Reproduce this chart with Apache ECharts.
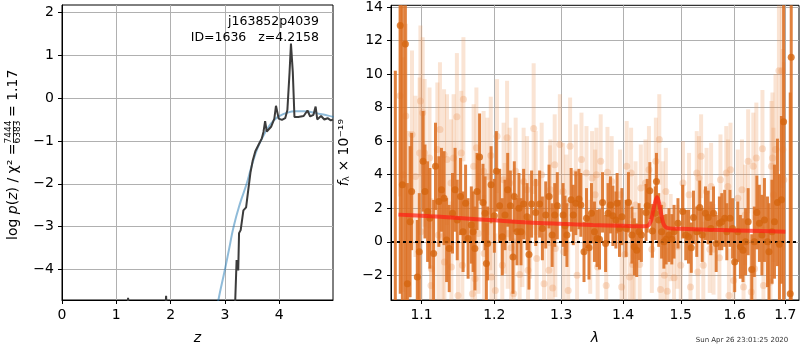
<!DOCTYPE html>
<html>
<head>
<meta charset="utf-8">
<script src="https://cdn.jsdelivr.net/npm/echarts@6/dist/echarts.min.js"></script>
<style>
html,body{margin:0;padding:0;background:#fff;}
#chart{width:800px;height:350px;}
</style>
</head>
<body>
<div id="chart"></div>
<script>
// ---- redshift probability, log p(z) ----
const pzZ   = [0.00, 1.17, 1.217, 1.26, 1.86, 1.917, 1.96, 2.60, 3.17, 3.19, 3.215, 3.235, 3.245, 3.26, 3.29, 3.34, 3.39, 3.42, 3.47, 3.51, 3.56, 3.62, 3.68, 3.71, 3.74, 3.77, 3.85, 3.91, 3.94, 3.99, 4.05, 4.11, 4.15, 4.19, 4.2158, 4.25, 4.28, 4.35, 4.45, 4.52, 4.57, 4.63, 4.67, 4.70, 4.77, 4.83, 4.89, 4.95, 4.99];
const pzLog = [-9.0, -6.0, -4.66, -6.0, -6.0, -4.61, -6.0, -8.0, -5.3, -4.71, -3.78, -3.80, -4.02, -3.15, -3.08, -2.62, -2.55, -2.24, -1.74, -1.47, -1.24, -1.09, -0.94, -0.79, -0.54, -0.78, -0.67, -0.48, -0.18, -0.48, -0.51, -0.47, -0.28, 0.60, 1.27, 0.60, -0.44, -0.44, -0.42, -0.29, -0.43, -0.39, -0.20, -0.50, -0.42, -0.50, -0.47, -0.52, -0.50];
// prior curve
const priorZ   = [2.80, 2.88, 3.00, 3.08, 3.16, 3.28, 3.40, 3.50, 3.60, 3.70, 3.80, 3.90, 4.00, 4.15, 4.30, 4.45, 4.60, 4.75, 4.90, 5.00];
const priorLog = [-5.3, -4.71, -4.00, -3.50, -3.00, -2.45, -2.00, -1.55, -1.17, -0.90, -0.68, -0.52, -0.42, -0.34, -0.31, -0.31, -0.33, -0.37, -0.41, -0.44];
const zTicks    = [0, 1, 2, 3, 4];
const logpTicks = [-4, -3, -2, -1, 0, 1, 2];

// ---- 1D spectrum (flux in 1e-19 units) ----
const darkWave = [
 1.0660,1.0723,1.0750,1.0789,1.0815,1.0850,1.0870,1.0944,1.0970,1.1020,1.1045,1.1080,1.1110,1.1160,1.1185,1.1230,1.1265,1.1300,1.1335,1.1370,1.1415,1.1450,1.1480,1.1525,1.1560,1.1595,1.1630,
 1.1675,1.1700,1.1725,1.1755,1.1791,1.1839,1.1868,1.1887,1.1905,1.1954,1.2001,1.2030,1.2077,1.2116,1.2155,1.2194,1.2233,1.2272,1.2291,1.2331,1.2360,1.2390,1.2429,1.2480,1.2509,1.2548,1.2610,1.2669,1.2711,1.2762,1.2813,
 1.2860,1.2900,1.2940,1.3030,1.3060,1.3090,1.3156,1.3190,1.3230,1.3280,1.3310,1.3360,1.3400,1.3440,1.3480,1.3528,1.3570,1.3610,1.3660,1.3710,1.3750,1.3790,1.3830,1.3880,1.3900,1.3940,1.3980,1.4050,1.4090,
 1.4150,1.4190,1.4230,1.4270,1.4310,1.4390,1.4410,1.4455,1.4500,1.4550,1.4570,1.4610,1.4660,1.4700,1.4740,1.4790,1.4840,1.4880,1.4950,1.5035,1.5090,1.5140,1.5190,1.5230,1.5290,1.5345,1.5390,1.5450,1.5500,
 1.5550,1.5600,1.5650,1.5710,1.5755,1.5810,1.5850,1.5910,1.5960,1.6000,1.6060,1.6110,1.6160,1.6210,1.6260,1.6330,1.6380,1.6430,1.6480,1.6530,1.6580,1.6640,1.6670,1.6730,1.6780,1.6840,1.6880,1.6920,1.6965,1.7100,1.7120
];
const darkFlux = [
 -4.0,12.9,3.4,11.8,-2.5,1.2,3.0,-2.1,-0.6,4.8,3.0,1.8,1.4,-0.7,4.5,2.4,3.1,2.6,0.1,-0.4,1.7,3.1,1.3,2.7,0.6,2.3,0.2,
 1.0,0.6,-0.4,3.0,5.05,2.35,1.7,-1.3,-0.1,3.4,1.55,4.2,2.15,0.3,1.6,3.1,2.15,-0.9,2.7,0.6,2.0,0.6,2.25,1.5,-0.75,2.25,1.75,2.25,0.8,1.6,2.7,
 0.4,1.6,2.15,1.6,0.95,0.4,2.5,1.6,2.3,2.55,2.2,-0.6,1.4,-0.35,1.7,0.6,0.2,0.15,2.35,-0.1,1.7,2.2,1.55,1.3,2.3,0.8,1.5,0.8,2.35,
 0.4,-0.3,-0.5,0.6,0.4,1.75,2.15,3.05,0.65,1.7,3.6,1.3,0.6,0.0,0.15,0.4,0.15,0.6,1.1,1.8,0.4,0.3,-0.35,1.45,0.6,2.05,0.4,1.7,1.45,
 0.8,1.7,-0.1,1.1,1.2,1.4,0.6,1.4,0.8,-1.2,0.6,-0.3,-0.5,0.0,1.2,-1.65,0.0,1.75,1.1,0.4,1.3,0.0,-0.6,0.6,1.2,2.35,-0.15,2.5,7.15,-3.1,11.0
];
const darkErr = [
 14.2,16,16,16,6.0,4.5,3.5,3.4,3.5,3.0,2.8,3.0,3.0,3.2,2.6,2.7,2.5,2.8,2.5,2.6,2.4,2.5,2.4,2.3,2.4,2.3,2.4,
 2.3,2.4,2.5,2.3,2.6,2.3,2.2,2.4,2.2,2.3,2.2,2.4,2.2,2.3,2.1,2.2,2.1,2.2,2.1,2.0,2.1,2.0,2.1,2.0,2.1,2.0,2.0,2.0,1.9,2.0,1.9,
 1.9,1.9,2.0,1.9,1.8,1.9,1.9,1.8,1.9,1.8,1.9,1.8,1.8,1.9,1.8,1.8,1.7,1.8,1.8,1.7,1.8,1.7,1.8,1.7,1.8,1.7,1.7,1.7,1.8,
 1.7,1.7,1.6,1.7,1.6,1.7,1.6,1.7,1.6,1.6,1.7,1.6,1.6,1.6,1.5,1.6,1.5,1.6,1.5,1.6,1.5,1.6,1.5,1.6,1.5,1.6,1.6,1.6,1.6,
 1.6,1.6,1.7,1.6,1.7,1.7,1.7,1.7,1.8,1.8,1.8,1.9,1.9,2.0,2.0,2.1,2.1,2.2,2.3,2.4,2.5,2.7,2.9,3.1,3.4,3.8,4.2,5.0,11,12,20
];

const lightWave = [
 1.0720,1.0760,1.0795,1.0830,1.0875,1.0920,1.0975,1.0985,1.0990,1.1015,1.1040,1.1105,1.1125,1.1130,1.1210,1.1225,1.1245,1.1280,1.1300,1.1305,1.1340,1.1395,1.1400,1.1430,1.1475,1.1490,1.1535,1.1550,1.1565,
 1.1690,1.1707,1.1727,1.1746,1.1775,1.1848,1.1855,1.1900,1.1940,1.1950,1.1960,1.2015,1.2040,1.2116,1.2135,1.2150,1.2185,1.2194,1.2223,1.2245,1.2282,1.2311,1.2370,1.2410,1.2429,1.2480,1.2495,1.2526,1.2579,1.2610,1.2625,1.2700,1.2736,1.2810,1.2833,
 1.2825,1.2870,1.2900,1.2910,1.2980,1.3030,1.3040,1.3080,1.3110,1.3140,1.3230,1.3250,1.3320,1.3400,1.3460,1.3490,1.3540,1.3560,1.3580,1.3630,1.3720,1.3740,1.3810,1.3950,1.3975,1.4030,1.4060,
 1.4110,1.4135,1.4160,1.4190,1.4210,1.4280,1.4300,1.4380,1.4440,1.4490,1.4560,1.4620,1.4640,1.4680,1.4710,1.4735,1.4760,1.4820,1.4880,1.4940,1.5000,1.5040,1.5150,1.5175,1.5290,1.5310,1.5330,1.5370,1.5410,1.5470,1.5530,1.5555,
 1.5600,1.5710,1.5730,1.5840,1.5870,1.5890,1.5920,1.5980,1.6060,1.6140,1.6170,1.6200,1.6260,1.6320,1.6360,1.6385,1.6420,1.6540,1.6560,1.6700,1.6720,1.6740,1.6760,1.6800,1.6870,1.6930,1.6950,1.6970
];
const lightFlux = [
 8.7,4.0,7.5,1.6,6.4,3.9,5.3,8.4,0.6,7.7,5.3,5.0,-2.6,-1.6,5.5,0.4,6.7,0.3,5.2,-1.2,4.9,3.5,-1.5,5.0,7.45,-3.2,5.3,-1.4,8.5,
 -3.1,4.5,-2.2,5.6,0.5,4.2,-0.7,3.9,1.8,5.15,-2.1,-2.9,6.3,-1.4,3.7,1.4,6.2,0.5,3.5,-0.35,-3.1,4.2,-1.95,0.5,3.6,3.1,-1.7,0.9,6.75,3.5,-1.0,4.0,-2.5,-1.7,3.1,
 2.75,-2.75,4.6,-0.4,5.8,3.0,-0.6,2.3,-2.9,5.7,4.1,-2.0,4.9,4.1,-0.3,3.8,2.8,4.0,-1.5,4.8,-2.6,4.15,3.6,2.8,-2.7,-0.75,4.5,
 -2.1,4.1,-1.35,-0.85,2.2,-1.35,3.2,3.5,4.3,-0.45,4.8,6.1,-2.85,2.2,-2.0,3.0,-2.95,0.25,-2.15,-0.3,-1.4,3.5,2.8,-2.7,4.1,-1.8,3.8,5.1,-1.4,3.0,-0.45,3.3,
 -0.45,-0.95,3.7,4.1,3.3,-3.2,4.3,-2.3,2.6,3.1,-2.7,1.6,4.8,-3.0,4.5,-1.6,5.0,5.55,-2.6,-2.4,4.5,5.0,2.8,5.5,10.2,10.2,5.5,3.7
];
const lightErr = [
 6.0,7.0,5.5,5.0,5.0,4.8,4.5,4.5,4.5,4.5,4.4,4.2,4.3,4.2,4.0,4.1,4.0,4.0,3.9,4.0,3.9,3.8,3.9,3.8,3.8,3.8,3.7,3.8,3.7,
 3.8,3.7,3.7,3.6,3.6,3.6,3.5,3.5,3.5,3.5,3.5,3.4,3.4,3.4,3.4,3.3,3.4,3.3,3.3,3.3,3.3,3.2,3.2,3.2,3.2,3.2,3.1,3.1,3.9,3.1,3.1,3.1,3.0,3.0,3.0,
 3.0,3.0,3.0,2.9,3.0,2.9,2.9,2.9,2.9,2.9,2.9,2.8,2.8,2.8,2.8,2.8,2.7,2.8,2.7,2.8,2.7,2.7,2.7,2.7,2.7,2.7,2.7,
 2.7,2.7,2.6,2.6,2.6,2.6,2.6,2.6,2.6,2.6,2.6,2.7,2.6,2.6,2.6,2.6,2.6,2.6,2.5,2.5,2.5,2.5,2.5,2.5,2.5,2.5,2.5,2.5,2.6,2.6,2.6,2.6,
 2.7,2.7,2.7,2.8,2.8,2.8,2.8,2.9,2.9,3.0,3.0,3.0,3.1,3.1,3.2,3.2,3.3,3.5,3.5,3.8,3.9,3.9,4.0,4.5,6.0,7.0,6.0,7.0
];

// best-fit template
const modelWave = [1.070,1.10,1.15,1.20,1.25,1.30,1.35,1.40,1.435,1.442,1.447,1.451,1.455,1.458,1.461,1.465,1.469,1.474,1.480,1.50,1.55,1.60,1.65,1.70];
const modelFlux = [1.62,1.55,1.42,1.28,1.15,1.07,1.00,0.95,0.92,0.95,1.20,1.80,2.40,2.65,2.40,1.70,1.10,0.85,0.80,0.78,0.72,0.68,0.64,0.60];

const waveTicks = [1.1, 1.2, 1.3, 1.4, 1.5, 1.6, 1.7];
const fluxTicks = [-2, 0, 2, 4, 6, 8, 10, 12, 14];

// ---- axis ranges ----
const zMin = 0, zMax = 4.99, logpMin = -4.71, logpMax = 2.17;
const waveMin = 1.0605, waveMax = 1.728, fluxMin = -3.47, fluxMax = 14.1;

const FONT = 'DejaVu Sans';
const minusFmt = v => (v < 0 ? '\u2212' + Math.abs(v) : String(v));

function errorBars(wave, flux, err, color, width, z) {
  return {
    type: 'custom', xAxisIndex: 1, yAxisIndex: 1, silent: true, z: z,
    data: wave.map((w, i) => [Math.log(w), flux[i], err[i]]),
    encode: { x: 0, y: 1 },
    renderItem: function (params, api) {
      const x = api.value(0), y = api.value(1), e = api.value(2);
      const lo = Math.max(y - e, fluxMin), hi = Math.min(y + e, fluxMax);
      if (lo >= hi) return null;
      const p1 = api.coord([x, lo]), p2 = api.coord([x, hi]);
      return { type: 'line', shape: { x1: p1[0], y1: p1[1], x2: p2[0], y2: p2[1] },
               style: { stroke: color, lineWidth: width } };
    }
  };
}
function points(wave, flux, color, size, z) {
  return {
    type: 'scatter', xAxisIndex: 1, yAxisIndex: 1, silent: true, z: z,
    symbolSize: size, itemStyle: { color: color },
    data: wave.map((w, i) => [Math.log(w), flux[i]])
  };
}

const gridLine = { show: true, lineStyle: { color: '#b0b0b0', width: 1 } };
const axLine = { show: true, onZero: false, lineStyle: { color: '#000', width: 1 } };
const axTick = { show: true, length: 4, inside: false, lineStyle: { color: '#000' } };

const chart = echarts.init(document.getElementById('chart'), null, { renderer: 'canvas' });
chart.setOption({
  animation: false,
  backgroundColor: '#fff',
  textStyle: { fontFamily: FONT },
  grid: [
    { left: 62, top: 5, width: 271, height: 299, show: true, borderColor: '#000', borderWidth: 1, backgroundColor: 'transparent' },
    { left: 391, top: 5, width: 408, height: 299, show: true, borderColor: '#000', borderWidth: 1, backgroundColor: 'transparent' }
  ],
  xAxis: [
    {
      type: 'value', gridIndex: 0, min: zMin, max: zMax,
      axisLine: axLine, axisTick: Object.assign({ customValues: zTicks }, axTick),
      axisLabel: { customValues: zTicks, color: '#000', fontSize: 14, fontFamily: FONT, margin: 8 },
      splitLine: gridLine,
      name: 'z', nameLocation: 'middle', nameGap: 31,
      nameTextStyle: { color: '#000', fontSize: 14, fontStyle: 'italic', fontFamily: FONT }
    },
    {
      type: 'value', gridIndex: 1, min: Math.log(waveMin), max: Math.log(waveMax),
      axisLine: axLine,
      axisTick: Object.assign({ customValues: waveTicks.map(Math.log) }, axTick),
      axisLabel: { customValues: waveTicks.map(Math.log), color: '#000', fontSize: 14, fontFamily: FONT, margin: 8,
                   formatter: v => Math.exp(v).toFixed(1) },
      splitLine: gridLine,
      name: 'λ', nameLocation: 'middle', nameGap: 31,
      nameTextStyle: { color: '#000', fontSize: 14, fontStyle: 'italic', fontFamily: FONT }
    }
  ],
  yAxis: [
    {
      type: 'value', gridIndex: 0, min: logpMin, max: logpMax,
      axisLine: axLine, axisTick: Object.assign({ customValues: logpTicks }, axTick),
      axisLabel: { customValues: logpTicks, color: '#000', fontSize: 14, fontFamily: FONT, margin: 8, formatter: minusFmt },
      splitLine: gridLine
    },
    {
      type: 'value', gridIndex: 1, min: fluxMin, max: fluxMax,
      axisLine: axLine, axisTick: Object.assign({ customValues: fluxTicks }, axTick),
      axisLabel: { customValues: fluxTicks, color: '#000', fontSize: 14, fontFamily: FONT, margin: 8, formatter: minusFmt },
      splitLine: gridLine,
      name: '{i|f}{sub|λ}{n| × 10⁻¹⁹}', nameLocation: 'middle', nameRotate: 90, nameGap: 36,
      nameTextStyle: {
        color: '#000', fontFamily: FONT,
        rich: {
          i: { fontSize: 14, fontStyle: 'italic', fontFamily: FONT, color: '#000' },
          sub: { fontSize: 9, fontFamily: FONT, color: '#000', padding: [6, 0, 0, 0] },
          n: { fontSize: 14, fontFamily: FONT, color: '#000' }
        }
      }
    }
  ],
  series: [
    { type: 'line', xAxisIndex: 0, yAxisIndex: 0, clip: true, showSymbol: false, smooth: true, silent: true, z: 3,
      lineStyle: { color: 'rgba(31,119,180,0.5)', width: 2 },
      data: priorZ.map((z, i) => [z, priorLog[i]]) },
    { type: 'line', xAxisIndex: 0, yAxisIndex: 0, clip: true, showSymbol: false, silent: true, z: 4,
      lineStyle: { color: '#3c3c3c', width: 2 },
      data: pzZ.map((z, i) => [z, pzLog[i]]) },

    errorBars(lightWave, lightFlux, lightErr, 'rgba(236,150,90,0.26)', 4, 2),
    points(lightWave, lightFlux, 'rgba(236,150,90,0.38)', 7, 3),
    errorBars(darkWave, darkFlux, darkErr, 'rgba(220,112,35,0.88)', 3, 4),
    points(darkWave, darkFlux, '#d5650f', 7, 5),
    { type: 'line', xAxisIndex: 1, yAxisIndex: 1, clip: true, showSymbol: false, smooth: 0.3, silent: true, z: 8,
      lineStyle: { color: 'rgba(255,30,20,0.7)', width: 4 },
      data: modelWave.map((w, i) => [Math.log(w), modelFlux[i]]),
      markLine: { silent: true, symbol: 'none', label: { show: false },
                  lineStyle: { color: '#000', type: [3, 3], width: 2 },
                  data: [{ yAxis: 0 }] } }
  ],
  graphic: [
    { type: 'text', x: 319, y: 22, z: 20, style: { text: 'j163852p4039', fill: '#000', font: '12.5px "DejaVu Sans"', align: 'right', verticalAlign: 'middle' } },
    { type: 'text', x: 319, y: 38, z: 20, style: { text: 'ID=1636   z=4.2158', fill: '#000', font: '12.5px "DejaVu Sans"', align: 'right', verticalAlign: 'middle' } },
    { type: 'group', x: 13, y: 240, rotation: Math.PI / 2, children: [
      { type: 'text', x: 0, y: 0, style: { text: '{n|log }{i|p}{n|(}{i|z}{n|) / χ² =}', align: 'left', verticalAlign: 'middle',
          rich: { n: { fontSize: 14, fontFamily: FONT, fill: '#000' }, i: { fontSize: 14, fontFamily: FONT, fontStyle: 'italic', fill: '#000' } } } },
      { type: 'text', x: 108, y: -4, style: { text: '7444', fill: '#000', font: '9px "DejaVu Sans"', align: 'center', verticalAlign: 'middle' } },
      { type: 'line', shape: { x1: 97, y1: 0.5, x2: 119, y2: 0.5 }, style: { stroke: '#000', lineWidth: 0.8 } },
      { type: 'text', x: 108, y: 5, style: { text: '6383', fill: '#000', font: '9px "DejaVu Sans"', align: 'center', verticalAlign: 'middle' } },
      { type: 'text', x: 123, y: 0, style: { text: '= 1.17', fill: '#000', font: '14px "DejaVu Sans"', align: 'left', verticalAlign: 'middle' } }
    ] },
    { type: 'text', x: 742, y: 340, style: { text: 'Sun Apr 26 23:01:25 2020', fill: '#333', font: '7px "DejaVu Sans"', align: 'center', verticalAlign: 'middle' } }
  ]
});
</script>
</body>
</html>
